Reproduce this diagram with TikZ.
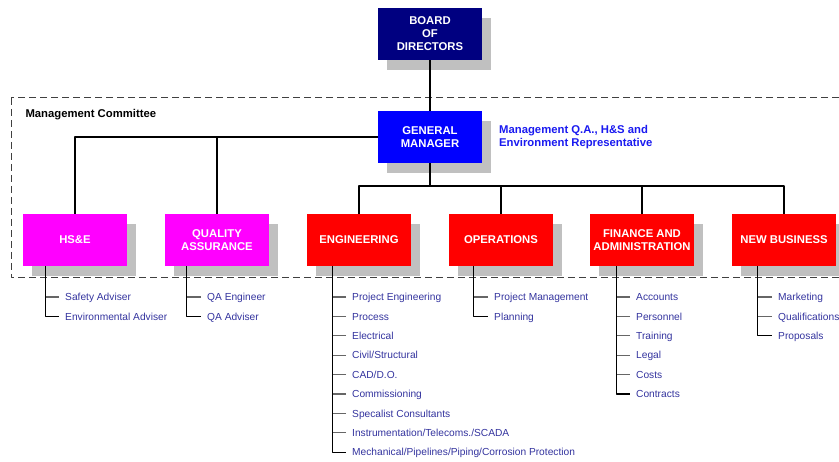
\documentclass[tikz,border=0pt]{standalone}
\usepackage{fontspec}
\setmainfont{Liberation Sans}
\usetikzlibrary{shadows}
\definecolor{boardblue}{HTML}{000080}
\definecolor{gmblue}{HTML}{0000FF}
\definecolor{repblue}{HTML}{1A1AF0}
\definecolor{itemblue}{HTML}{33339E}
\definecolor{advmagenta}{HTML}{FF00FF}
\definecolor{deptred}{HTML}{FF0000}
\definecolor{shadowgray}{HTML}{C0C0C0}
\definecolor{tickgray}{HTML}{666666}
\begin{document}
\begin{tikzpicture}[x=1pt,y=-1pt,line join=round,
  box/.style={minimum width=104pt,minimum height=52pt,inner sep=0pt,align=center,text=white,
    font=\fontsize{11.3}{13}\selectfont\bfseries,
    drop shadow={shadow xshift=9pt,shadow yshift=-10pt,fill=shadowgray,opacity=1}},
  item/.style={anchor=west,inner sep=0pt,text height=7.3pt,text depth=0pt,text=itemblue,
    font=\fontsize{10.2}{12}\selectfont},
  link/.style={line width=1.8pt},
  stem/.style={line width=1.1pt},
  tick/.style={line width=1.1pt,tickgray}]
\useasboundingbox (0,0) rectangle (839,462);
\clip (0,0) rectangle (839,462);
\def\rowy{240}
\draw[black!75,line width=1pt,dash pattern=on 7pt off 4pt] (11,98) rectangle (850,278);
\node[anchor=base west,font=\fontsize{11.3}{13}\selectfont\bfseries] (mc) at (22,118) {Management Committee};
\node[box,fill=boardblue] (board) at (430,34) {BOARD\\OF\\DIRECTORS};
\node[box,fill=gmblue] (gm) at (430,137) {GENERAL\\MANAGER};
\node[anchor=north west,inner sep=0pt,align=left,text=repblue,font=\fontsize{11.3}{13}\selectfont\bfseries] (rep) at (499,125.5)
  {Management Q.A., H\&S and\\Environment Representative};
\node[box,fill=advmagenta] (hse) at (75,\rowy) {HS\&E};
\node[box,fill=advmagenta] (qa) at (217,\rowy) {QUALITY\\ASSURANCE};
\node[box,fill=deptred] (eng) at (359,\rowy) {ENGINEERING};
\node[box,fill=deptred] (ops) at (501,\rowy) {OPERATIONS};
\node[box,fill=deptred] (fin) at (642,\rowy) {FINANCE AND\\ADMINISTRATION};
\node[box,fill=deptred] (nb) at (784,\rowy) {NEW BUSINESS};
\draw[link] (board) -- (gm);
\draw[link] (gm.west) -| (hse.north);
\draw[link] (qa.north) -- (qa.north |- gm.west);
\draw[link] (gm.south) -- ++(0,23) coordinate (split);
\draw[link] (eng.north) |- (split) -| (nb.north);
\draw[link] (ops.north) -- (ops.north |- split);
\draw[link] (fin.north) -- (fin.north |- split);
\coordinate (hse-s) at ([xshift=23pt]hse.south west);
\foreach \t [count=\k] in {Safety Adviser,Environmental Adviser}
  \node[item] (hse-\k) at (65,{277.6+19.4*\k}) {\t};
\draw[tick] ([xshift=-6pt]hse-1.west) -- (hse-1.west -| hse-s);
\draw[stem] (hse-s) |- ([xshift=-6pt]hse-2.west);
\coordinate (qa-s) at ([xshift=22pt]qa.south west);
\foreach \t [count=\k] in {QA Engineer,QA Adviser}
  \node[item] (qa-\k) at (207,{277.6+19.4*\k}) {\t};
\draw[tick] ([xshift=-6pt]qa-1.west) -- (qa-1.west -| qa-s);
\draw[stem] (qa-s) |- ([xshift=-6pt]qa-2.west);
\coordinate (eng-s) at ([xshift=26pt]eng.south west);
\foreach \t [count=\k] in {Project Engineering,Process,Electrical,Civil/Structural,CAD/D.O.,Commissioning,
    Specalist Consultants,Instrumentation/Telecoms./SCADA,Mechanical/Pipelines/Piping/Corrosion Protection}
  \node[item] (eng-\k) at (352,{277.6+19.4*\k}) {\t};
\foreach \k in {1,...,8}
  \draw[tick] ([xshift=-6pt]eng-\k.west) -- (eng-\k.west -| eng-s);
\draw[stem] (eng-s) |- ([xshift=-6pt]eng-9.west);
\coordinate (ops-s) at ([xshift=25pt]ops.south west);
\foreach \t [count=\k] in {Project Management,Planning}
  \node[item] (ops-\k) at (494,{277.6+19.4*\k}) {\t};
\draw[tick] ([xshift=-6pt]ops-1.west) -- (ops-1.west -| ops-s);
\draw[stem] (ops-s) |- ([xshift=-6pt]ops-2.west);
\coordinate (fin-s) at ([xshift=27pt]fin.south west);
\foreach \t [count=\k] in {Accounts,Personnel,Training,Legal,Costs,Contracts}
  \node[item] (fin-\k) at (636,{277.6+19.4*\k}) {\t};
\foreach \k in {1,...,5}
  \draw[tick] ([xshift=-6pt]fin-\k.west) -- (fin-\k.west -| fin-s);
\draw[stem] (fin-s) |- ([xshift=-6pt]fin-6.west);
\coordinate (nb-s) at ([xshift=26pt]nb.south west);
\foreach \t [count=\k] in {Marketing,Qualifications,Proposals}
  \node[item] (nb-\k) at (778,{277.6+19.4*\k}) {\t};
\foreach \k in {1,2}
  \draw[tick] ([xshift=-6pt]nb-\k.west) -- (nb-\k.west -| nb-s);
\draw[stem] (nb-s) |- ([xshift=-6pt]nb-3.west);
\end{tikzpicture}
\end{document}
